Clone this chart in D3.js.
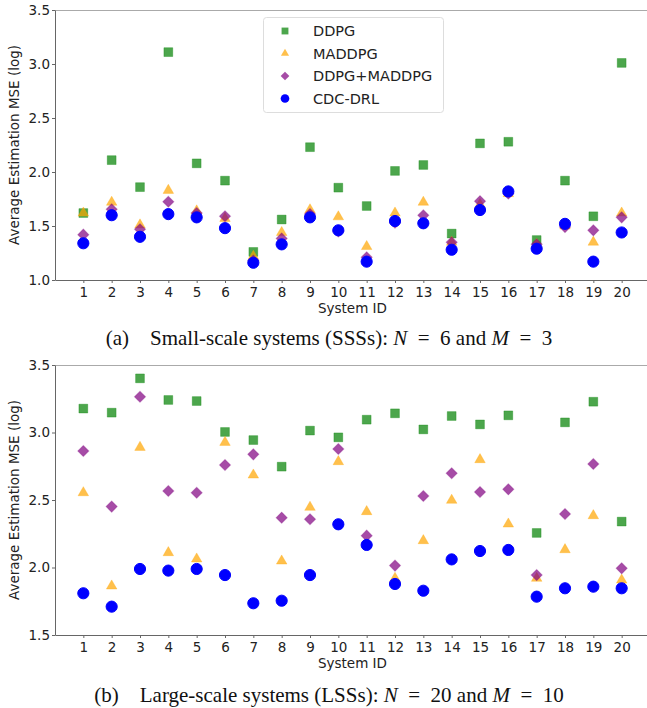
<!DOCTYPE html>
<html>
<head>
<meta charset="utf-8">
<script src="https://cdn.jsdelivr.net/npm/d3@7"></script>
<style>
  body { margin: 0; background: #fff; }
  svg { display: block; }
  .tick text { font-family: "DejaVu Sans", sans-serif; font-size: 13.5px; fill: #222; }
</style>
</head>
<body>
<svg id="chart" width="647" height="708"></svg>
<script>
// system ids on the x axis
const systemIds = d3.range(1, 21)

// small-scale systems (N = 6, M = 3)
const sssDDPG   = [1.62, 2.11, 1.86, 3.11, 2.08, 1.92, 1.26, 1.56, 2.23, 1.855, 1.685, 2.01, 2.065, 1.43, 2.265, 2.28, 1.37, 1.92, 1.59, 3.01]
const sssMADDPG = [1.62, 1.72, 1.51, 1.83, 1.64, 1.57, 1.22, 1.44, 1.65, 1.585, 1.31, 1.62, 1.72, 1.35, 1.70, 1.80, 1.33, 1.50, 1.35, 1.62]
const sssHybrid = [1.42, 1.655, 1.47, 1.725, 1.62, 1.59, 1.18, 1.385, 1.61, 1.45, 1.21, 1.53, 1.60, 1.35, 1.73, 1.80, 1.33, 1.49, 1.46, 1.58]
const sssCDC    = [1.34, 1.60, 1.40, 1.61, 1.58, 1.48, 1.16, 1.33, 1.58, 1.46, 1.17, 1.546, 1.525, 1.28, 1.648, 1.82, 1.29, 1.52, 1.17, 1.44]

// large-scale systems (N = 20, M = 10)
const lssDDPG   = [3.177, 3.147, 3.401, 3.241, 3.233, 3.004, 2.944, 2.747, 3.014, 2.964, 3.095, 3.142, 3.023, 3.122, 3.06, 3.127, 2.256, 3.075, 3.228, 2.34]
const lssMADDPG = [2.554, 1.863, 2.89, 2.11, 2.063, 2.927, 2.685, 2.048, 2.446, 2.784, 2.414, 1.92, 2.199, 2.498, 2.799, 2.322, 1.92, 2.132, 2.384, 1.907]
const lssHybrid = [2.863, 2.451, 3.265, 2.567, 2.554, 2.759, 2.838, 2.369, 2.357, 2.878, 2.236, 2.014, 2.53, 2.698, 2.559, 2.579, 1.944, 2.396, 2.767, 1.994]
const lssCDC    = [1.809, 1.71, 1.989, 1.977, 1.989, 1.944, 1.735, 1.754, 1.944, 2.32, 2.167, 1.878, 1.828, 2.06, 2.122, 2.13, 1.784, 1.846, 1.858, 1.846]

const sssTicks = [1.0, 1.5, 2.0, 2.5, 3.0, 3.5]
const lssTicks = [1.5, 2.0, 2.5, 3.0, 3.5]

const methodNames = ["DDPG", "MADDPG", "DDPG+MADDPG", "CDC-DRL"]

// marker style per method, in drawing order
const styles = [
  { shape: d3.symbolSquare,   size: 78, fill: "#008000", op: 0.7, rot: 0 },
  { shape: d3.symbolTriangle, size: 48, fill: "#ffa500", op: 0.7, rot: 0 },
  { shape: d3.symbolSquare,   size: 62, fill: "#800080", op: 0.7, rot: 45 },
  { shape: d3.symbolCircle,   size: 98, fill: "#0000ff", op: 1.0, rot: 0 }
]

const svg = d3.select("#chart")
const left = 55, right = 650

const x = d3.scaleLinear().domain([0, 21]).range([left, right])

/**
 * Draws one scatter panel with its axes and caption.
 */
function drawPanel (series, yDomain, yTop, yBottom, ticks, caption) {
  const y = d3.scaleLinear().domain(yDomain).range([yBottom, yTop])
  const g = svg.append("g")

  // top spine
  g.append("line")
    .attr("x1", left).attr("x2", 647)
    .attr("y1", yTop + 0.5).attr("y2", yTop + 0.5)
    .attr("stroke", "#aaa")

  let xa = g.append("g")
    .attr("transform", `translate(0,${yBottom})`)
    .call(d3.axisBottom(x).tickValues(systemIds).tickFormat(d3.format("d")).tickSize(3).tickPadding(4).tickSizeOuter(0))
  xa.select(".domain").attr("stroke", "#666")
  xa.selectAll(".tick line").attr("stroke", "#666")

  let ya = g.append("g")
    .attr("transform", `translate(${left},0)`)
    .call(d3.axisLeft(y).tickValues(ticks).tickFormat(d3.format(".1f")).tickSize(3).tickPadding(2).tickSizeOuter(0))
  ya.select(".domain").attr("stroke", "#666")
  ya.selectAll(".tick line").attr("stroke", "#666")

  series.forEach(function(vals, i){
    let s = styles[i]
    g.append("g")
      .selectAll("path")
      .data(vals)
      .enter()
      .append("path")
      .attr("d", d3.symbol().type(s.shape).size(s.size))
      .attr("transform", function(d, j){ return `translate(${x(systemIds[j])},${y(d)}) rotate(${s.rot})` })
      .attr("fill", s.fill)
      .attr("fill-opacity", s.op)
      .attr("stroke", s.fill)
      .attr("stroke-opacity", s.op < 1 ? 0.3 : 1)
      .attr("stroke-width", 1)
  })

  g.append("text")
    .attr("x", (left + right) / 2)
    .attr("y", yBottom + 33)
    .attr("text-anchor", "middle")
    .style("font-family", "DejaVu Sans, sans-serif")
    .style("font-size", "13.5px")
    .attr("fill", "#222")
    .text("System ID")

  g.append("text")
    .attr("transform", `translate(19,${(yTop + yBottom) / 2}) rotate(-90)`)
    .attr("text-anchor", "middle")
    .style("font-family", "DejaVu Sans, sans-serif")
    .style("font-size", "13.5px")
    .attr("fill", "#222")
    .text("Average Estimation MSE (log)")

  // caption, math letters in italic
  let cap = g.append("text")
    .attr("x", 329)
    .attr("y", caption.y)
    .attr("text-anchor", "middle")
    .style("font-family", "Liberation Serif, serif")
    .style("font-size", "21px")
    .attr("fill", "#111")
  cap.append("tspan").text(caption.head + "\u2003" + caption.body + " ")
  cap.append("tspan").style("font-style", "italic").text("N")
  cap.append("tspan").text("\u2002=\u2002" + caption.n + " and ")
  cap.append("tspan").style("font-style", "italic").text("M")
  cap.append("tspan").text("\u2002=\u2002" + caption.m)

  return g
}

drawPanel([sssDDPG, sssMADDPG, sssHybrid, sssCDC], [1.0, 3.5], 10, 280, sssTicks,
  { y: 345, head: "(a)", body: "Small-scale systems (SSSs):", n: "6", m: "3" })
drawPanel([lssDDPG, lssMADDPG, lssHybrid, lssCDC], [1.5, 3.5], 365, 635, lssTicks,
  { y: 702, head: "(b)", body: "Large-scale systems (LSSs):", n: "20", m: "10" })

// legend in the top panel
const legend = svg.append("g").attr("transform", "translate(263,17)")
legend.append("rect")
  .attr("x", 0.5).attr("y", 0.5)
  .attr("width", 180).attr("height", 95)
  .attr("rx", 3)
  .attr("fill", "white")
  .attr("fill-opacity", 0.8)
  .attr("stroke", "#ddd")

methodNames.forEach(function(name, i){
  let s = styles[i]
  let row = legend.append("g").attr("transform", `translate(0,${14 + i * 22.5})`)
  row.append("path")
    .attr("d", d3.symbol().type(s.shape).size(s.size * 0.6))
    .attr("transform", `translate(22,0) rotate(${s.rot})`)
    .attr("fill", s.fill)
    .attr("fill-opacity", s.op)
  row.append("text")
    .attr("x", 50)
    .attr("y", 5)
    .style("font-family", "DejaVu Sans, sans-serif")
    .style("font-size", "14.5px")
    .attr("fill", "#222")
    .text(name)
})
</script>
</body>
</html>
